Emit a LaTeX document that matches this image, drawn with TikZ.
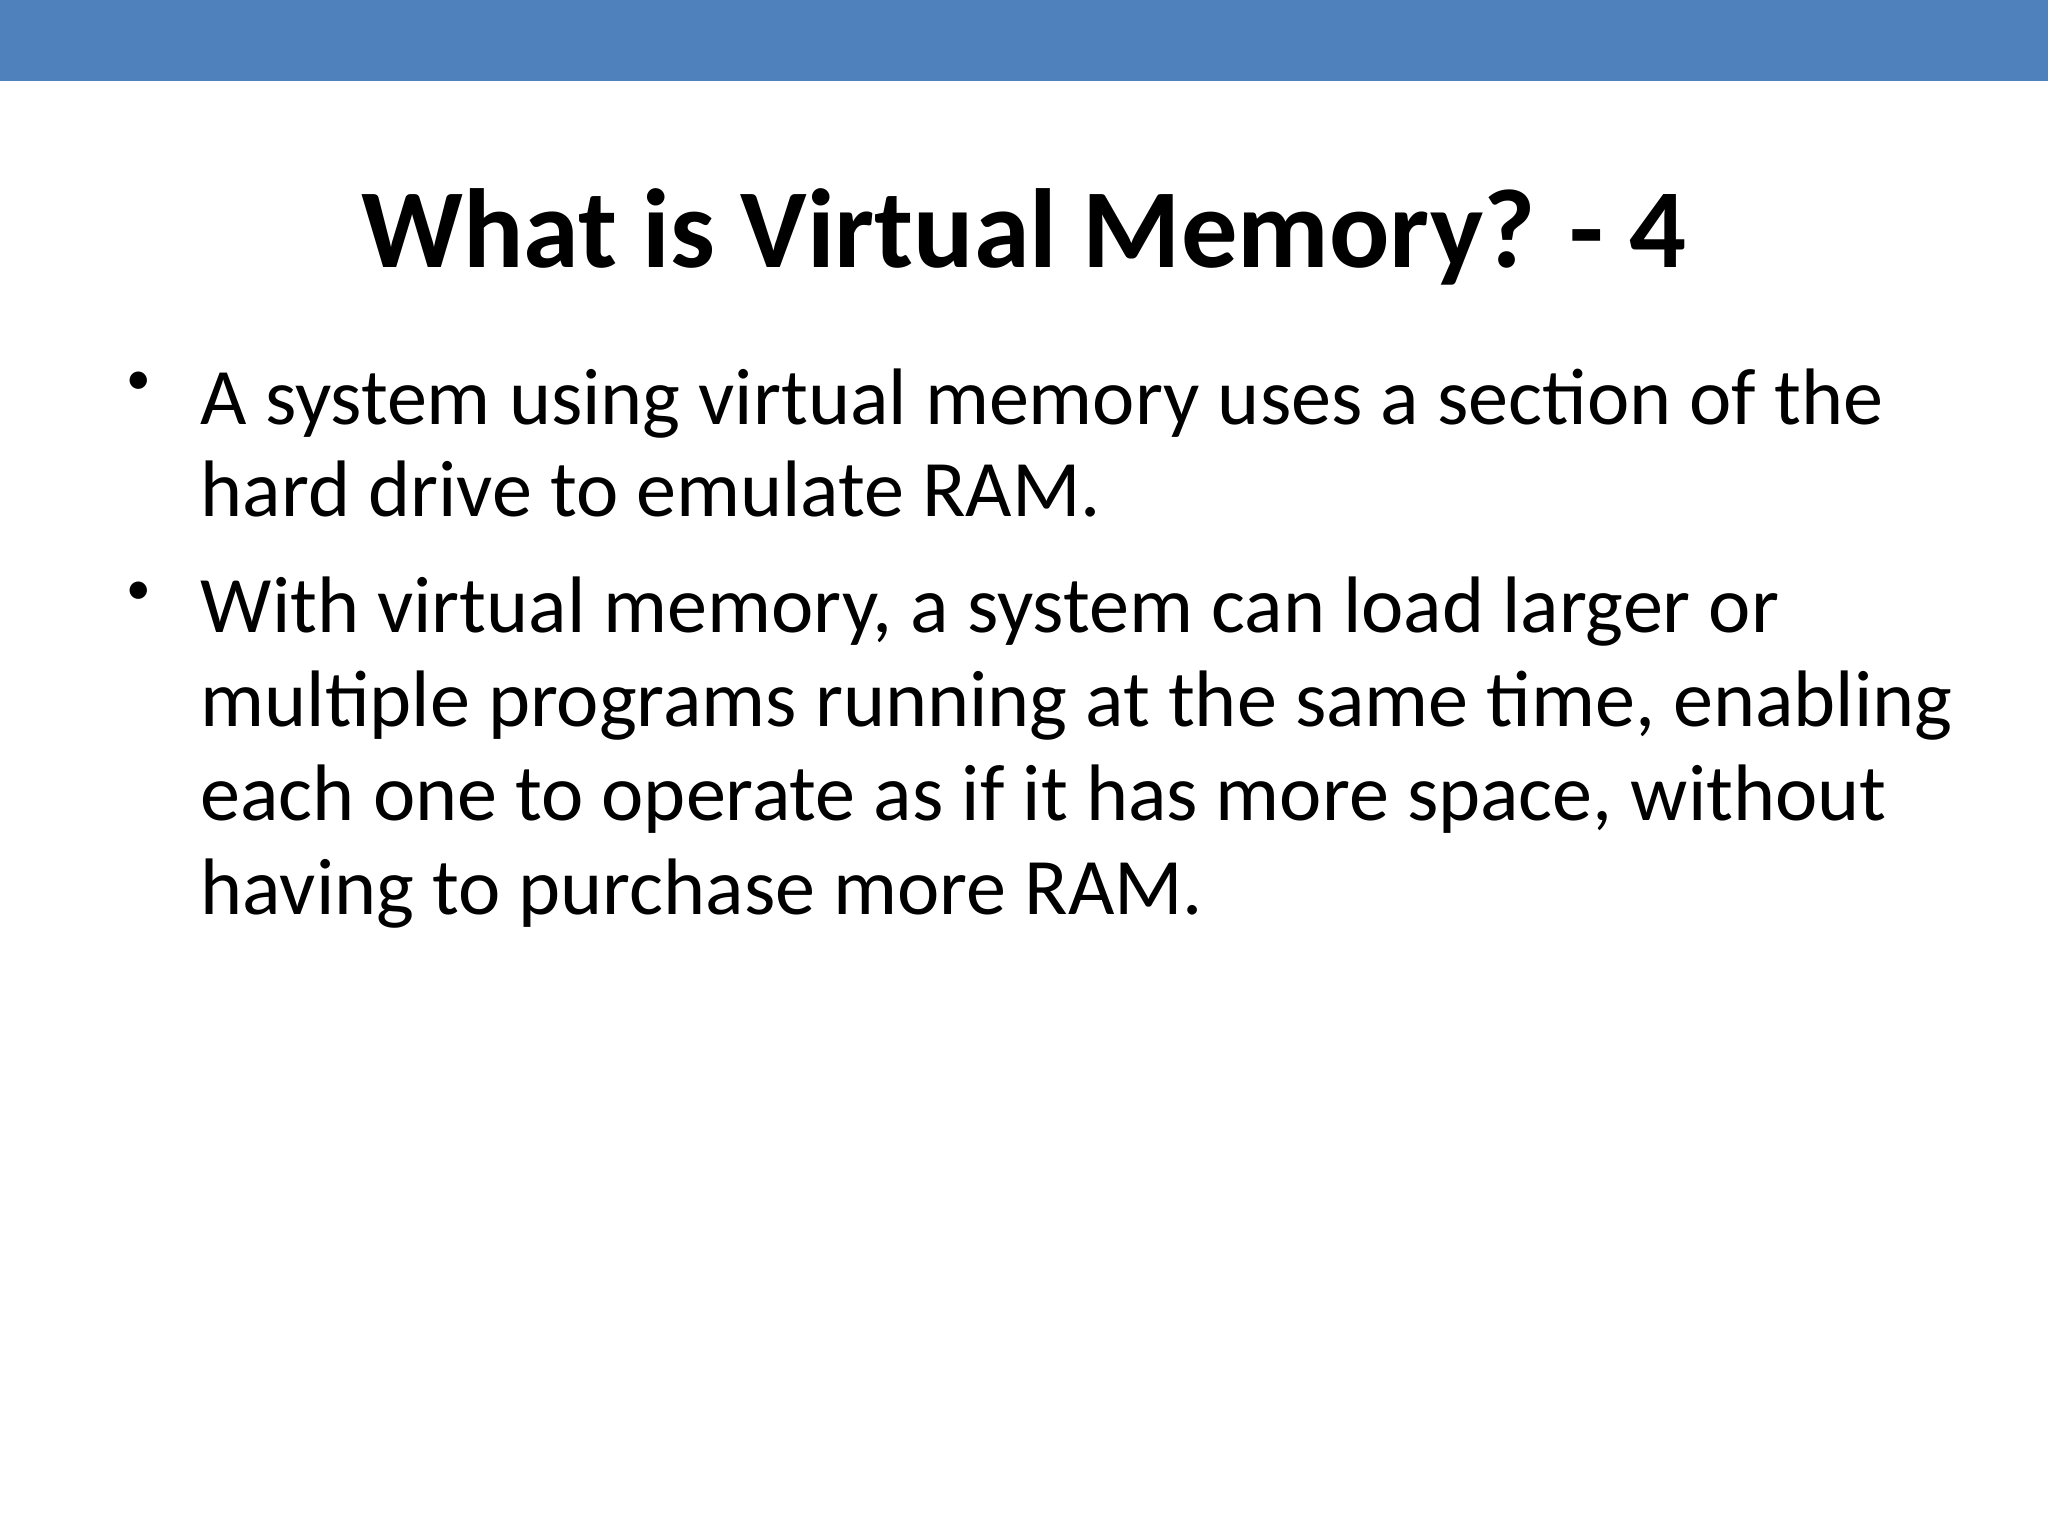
\documentclass[tikz,border=0pt]{standalone}
\usepackage{fontspec}
\setmainfont{Carlito}
\definecolor{barblue}{HTML}{4F81BD}
\begin{document}
\begin{tikzpicture}[x=1cm,y=1cm,
  bodyline/.style={anchor=base west,inner sep=0pt,font=\fontsize{22.8}{27}\selectfont},
  bul/.style={anchor=base west,inner sep=0pt,font=\fontsize{14}{16}\selectfont}]
\useasboundingbox (0,0) rectangle (20.48,-15.36);
\fill[barblue] (0,0) rectangle (20.48,-0.81);
\node[anchor=base,inner sep=0pt,font=\fontsize{32}{38}\selectfont\bfseries] (title) at (10.24,-2.68) {What is Virtual Memory? - 4};
\node[bul] (b1) at (1.26,-3.95) {•};
\node[bodyline] (l1) at (2.0,-4.24) {A system using virtual memory uses a section of the};
\node[bodyline] (l2) at (2.0,-5.16) {hard drive to emulate RAM.};
\node[bul] (b2) at (1.26,-6.04) {•};
\node[bodyline] (l3) at (2.0,-6.33) {With virtual memory, a system can load larger or};
\node[bodyline] (l4) at (2.0,-7.27) {multiple programs running at the same time, enabling};
\node[bodyline] (l5) at (2.0,-8.21) {each one to operate as if it has more space, without};
\node[bodyline] (l6) at (2.0,-9.15) {having to purchase more RAM.};
\end{tikzpicture}
\end{document}
